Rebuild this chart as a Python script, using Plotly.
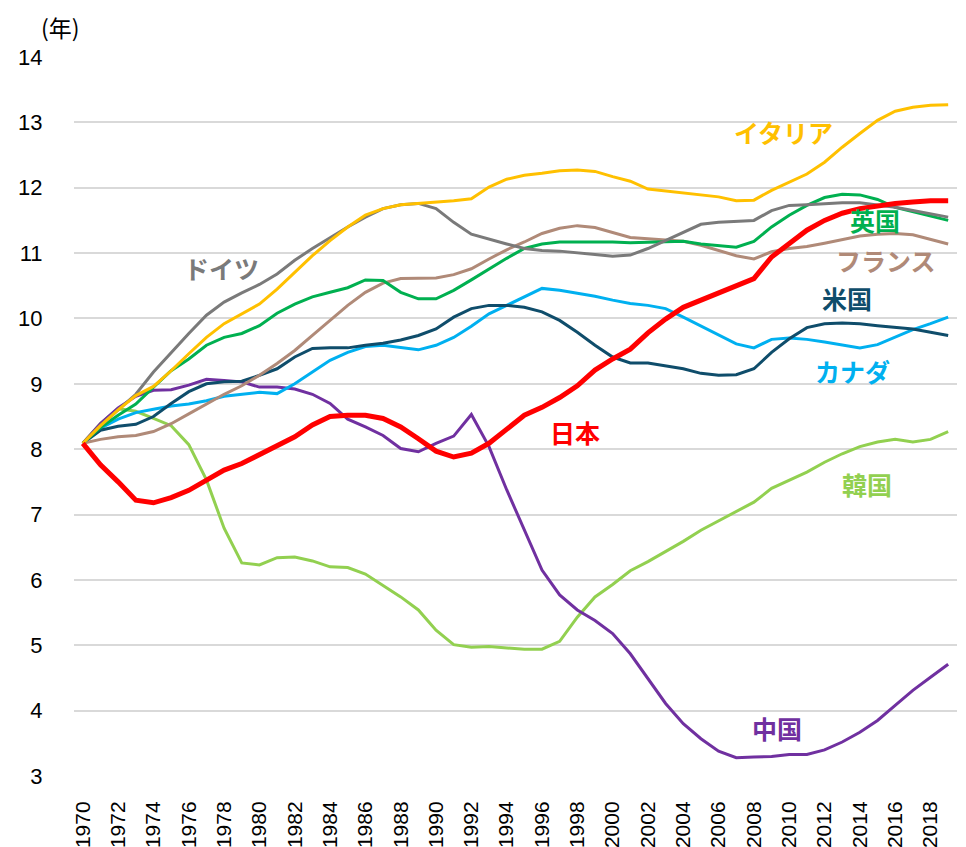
import plotly.graph_objects as go

years = list(range(1970, 2020))

japan = [8.09, 7.76, 7.50, 7.22, 7.18, 7.26, 7.37, 7.53, 7.68, 7.78,
         7.91, 8.05, 8.19, 8.37, 8.50, 8.52, 8.52, 8.47, 8.34, 8.16,
         7.97, 7.88, 7.94, 8.09, 8.31, 8.52, 8.64, 8.79, 8.97, 9.21,
         9.38, 9.53, 9.78, 9.99, 10.17, 10.28, 10.38, 10.48, 10.61, 10.94,
         11.14, 11.35, 11.50, 11.61, 11.68, 11.72, 11.76, 11.78, 11.80, 11.80]

italy = [8.09, 8.36, 8.60, 8.82, 8.96, 9.20, 9.46, 9.71, 9.92, 10.07,
         10.22, 10.45, 10.71, 10.96, 11.19, 11.40, 11.58, 11.68, 11.74, 11.76,
         11.77, 11.80, 11.83, 12.01, 12.13, 12.19, 12.22, 12.26, 12.27, 12.25,
         12.17, 12.10, 11.98, 11.95, 11.92, 11.89, 11.86, 11.80, 11.81, 11.96,
         12.09, 12.21, 12.39, 12.62, 12.83, 13.03, 13.17, 13.23, 13.26, 13.27]

germany = [8.09, 8.36, 8.60, 8.84, 9.18, 9.48, 9.77, 10.05, 10.25, 10.39,
           10.52, 10.68, 10.89, 11.07, 11.24, 11.40, 11.55, 11.68, 11.74, 11.76,
           11.68, 11.47, 11.29, 11.21, 11.14, 11.07, 11.04, 11.03, 11.01, 10.98,
           10.95, 10.97, 11.07, 11.19, 11.32, 11.44, 11.47, 11.48, 11.50, 11.65,
           11.73, 11.74, 11.76, 11.77, 11.77, 11.74, 11.70, 11.65, 11.60, 11.55]

uk = [8.09, 8.33, 8.52, 8.69, 8.95, 9.20, 9.38, 9.59, 9.71, 9.77,
      9.89, 10.08, 10.22, 10.33, 10.40, 10.47, 10.59, 10.58, 10.40, 10.30,
      10.30, 10.43, 10.59, 10.76, 10.92, 11.07, 11.14, 11.17, 11.17, 11.18,
      11.17, 11.16, 11.17, 11.18, 11.18, 11.14, 11.12, 11.09, 11.18, 11.40,
      11.58, 11.73, 11.85, 11.90, 11.89, 11.82, 11.70, 11.63, 11.56, 11.50]

france = [8.09, 8.15, 8.19, 8.21, 8.27, 8.39, 8.54, 8.69, 8.84, 8.97,
          9.13, 9.31, 9.51, 9.74, 9.97, 10.20, 10.40, 10.54, 10.61, 10.62,
          10.62, 10.67, 10.76, 10.91, 11.05, 11.17, 11.30, 11.38, 11.42, 11.39,
          11.31, 11.24, 11.22, 11.20, 11.18, 11.12, 11.04, 10.96, 10.91, 11.02,
          11.07, 11.10, 11.15, 11.21, 11.26, 11.29, 11.30, 11.28, 11.21, 11.14]

usa = [8.09, 8.29, 8.35, 8.38, 8.50, 8.70, 8.88, 9.00, 9.03, 9.04,
       9.13, 9.23, 9.41, 9.54, 9.55, 9.55, 9.59, 9.62, 9.67, 9.74,
       9.84, 10.02, 10.15, 10.20, 10.20, 10.17, 10.10, 9.97, 9.79, 9.59,
       9.41, 9.32, 9.32, 9.28, 9.23, 9.16, 9.13, 9.14, 9.23, 9.48,
       9.69, 9.86, 9.92, 9.93, 9.92, 9.89, 9.87, 9.84, 9.79, 9.74]

canada = [8.09, 8.32, 8.46, 8.56, 8.61, 8.66, 8.69, 8.74, 8.81, 8.84,
          8.87, 8.85, 9.00, 9.18, 9.36, 9.48, 9.57, 9.59, 9.55, 9.52,
          9.59, 9.71, 9.88, 10.07, 10.20, 10.33, 10.46, 10.43, 10.39, 10.34,
          10.28, 10.23, 10.20, 10.15, 10.02, 9.88, 9.74, 9.61, 9.55, 9.68,
          9.70, 9.68, 9.64, 9.59, 9.55, 9.60, 9.72, 9.83, 9.92, 10.02]

korea = [8.09, 8.39, 8.62, 8.58, 8.47, 8.36, 8.07, 7.53, 6.79, 6.26,
         6.23, 6.34, 6.35, 6.29, 6.20, 6.19, 6.09, 5.92, 5.74, 5.54,
         5.23, 5.01, 4.97, 4.98, 4.96, 4.94, 4.94, 5.06, 5.43, 5.74,
         5.93, 6.14, 6.28, 6.43, 6.59, 6.76, 6.90, 7.04, 7.19, 7.40,
         7.53, 7.65, 7.80, 7.93, 8.04, 8.11, 8.15, 8.11, 8.15, 8.27]

china = [8.09, 8.39, 8.63, 8.81, 8.90, 8.91, 8.98, 9.07, 9.05, 9.03,
         8.95, 8.95, 8.92, 8.84, 8.70, 8.46, 8.34, 8.21, 8.01, 7.96,
         8.09, 8.20, 8.53, 8.04, 7.38, 6.76, 6.15, 5.77, 5.54, 5.38,
         5.18, 4.87, 4.49, 4.11, 3.80, 3.57, 3.38, 3.28, 3.29, 3.30,
         3.33, 3.33, 3.40, 3.52, 3.67, 3.85, 4.08, 4.31, 4.51, 4.71]

names = ["韓国", "中国", "カナダ", "米国", "フランス", "英国", "ドイツ", "イタリア", "日本"]
series = [korea, china, canada, usa, france, uk, germany, italy, japan]
colors = ["#92D050", "#7030A0", "#00B0F0", "#0F4D6B", "#B08A78",
          "#00B050", "#7A7A7A", "#FFC000", "#FF0000"]
widths = [3, 3, 3, 3, 3, 3, 3, 3, 5]

y_ticks = list(range(3, 15))
x_ticks = list(range(1970, 2019, 2))

fig = go.Figure()
for name, vals, col, w in zip(names, series, colors, widths):
    fig.add_trace(go.Scatter(x=years, y=vals, mode="lines", name=name,
                             line=dict(color=col, width=w), hoverinfo="skip"))

# series labels (year, value) positions
labels = [
    ("イタリア", 2009.7, 12.86, "#FFC000"),
    ("ドイツ", 1977.85, 10.77, "#7A7A7A"),
    ("英国", 2014.85, 11.50, "#00B050"),
    ("フランス", 2015.5, 10.90, "#B08A78"),
    ("米国", 2013.25, 10.32, "#0F4D6B"),
    ("カナダ", 2013.6, 9.20, "#00B0F0"),
    ("日本", 1997.85, 8.27, "#FF0000"),
    ("韓国", 2014.4, 7.46, "#92D050"),
    ("中国", 2009.3, 3.74, "#7030A0"),
]
for txt, lx, ly, col in labels:
    fig.add_annotation(x=lx, y=ly, xref="x", yref="y", text="<b>%s</b>" % txt,
                       showarrow=False, xanchor="center", yanchor="middle",
                       font=dict(family="Noto Sans CJK JP", size=25, color=col))

# page body adds an 8px offset; figure is sized/margined to compensate
fig.add_annotation(x=(52 - 66) / 883, y=1 + 49 / 719,
                   xref="paper", yref="paper", text="(年)",
                   showarrow=False, xanchor="center", yanchor="top",
                   font=dict(family="Noto Sans CJK JP", size=23, color="#000000"))

fig.update_layout(
    width=958, height=839,
    margin=dict(l=66, r=9, t=49, b=71, autoexpand=False),
    paper_bgcolor="white", plot_bgcolor="white",
    showlegend=False,
    font=dict(family="Liberation Sans", size=21, color="#000000"),
)
fig.update_xaxes(range=[1969.5, 2019.5], tickvals=x_ticks,
                 ticktext=[str(v) for v in x_ticks], tickangle=-90,
                 showgrid=False, zeroline=False, showline=False, automargin=False,
                 ticks="outside", ticklen=16, tickcolor="rgba(0,0,0,0)",
                 tickfont=dict(family="Liberation Sans", size=21))
fig.update_yaxes(range=[3, 14], tickvals=y_ticks, automargin=False,
                 showgrid=True, gridcolor="#D9D9D9", gridwidth=1.5,
                 zeroline=False, showline=False,
                 ticks="outside", ticklen=26, tickcolor="rgba(0,0,0,0)",
                 tickfont=dict(family="Liberation Sans", size=22))

fig.write_html("out.html")
